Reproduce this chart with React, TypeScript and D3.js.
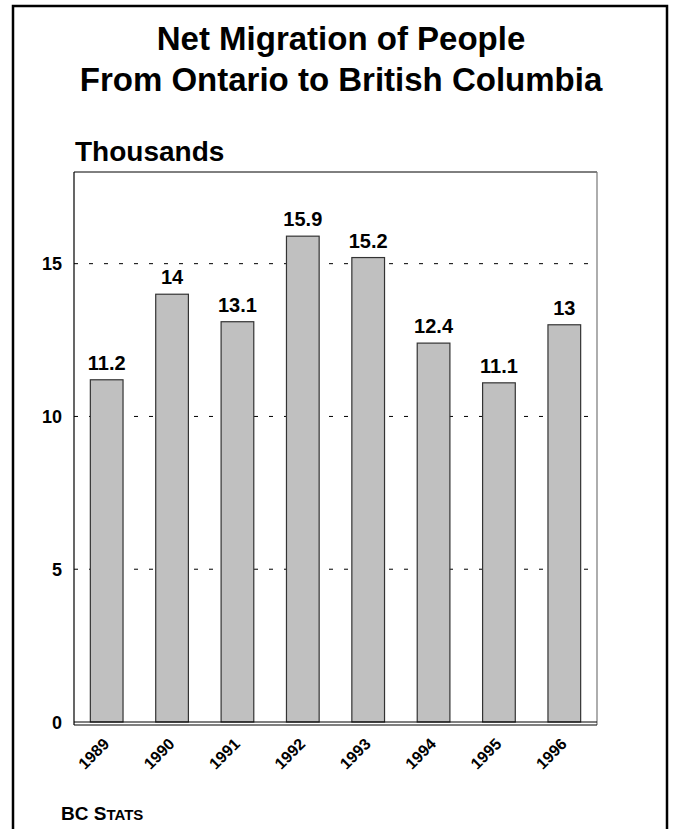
import React from "react";
import * as d3 from "d3";

const years = ["1989", "1990", "1991", "1992", "1993", "1994", "1995", "1996"];
const values = [11.2, 14, 13.1, 15.9, 15.2, 12.4, 11.1, 13];
const valueLabels = ["11.2", "14", "13.1", "15.9", "15.2", "12.4", "11.1", "13"];
const yTicks = [0, 5, 10, 15];
const titleLines = ["Net Migration of People", "From Ontario to British Columbia"];

const W = 673, H = 829;
const plot = { left: 74, right: 597, top: 172, bottom: 722 };
const FONT = "'Liberation Sans', Arial, Helvetica, sans-serif";

export default function App() {
  const x = d3.scaleBand<string>().domain(years).range([plot.left, plot.right]).paddingInner(0.5).paddingOuter(0.25);
  const y = d3.scaleLinear().domain([0, 18]).range([plot.bottom, plot.top]);

  return (
    <svg width={W} height={H} style={{ position: "absolute", left: 0, top: 0, background: "#fff" }} fontFamily={FONT}>
      <rect x={13} y={6} width={654} height={840} fill="#fff" stroke="#000" strokeWidth={2.5} />
      {titleLines.map((t, i) => (
        <text key={t} x={341} y={50 + i * 41} textAnchor="middle" fontSize={33} fontWeight="bold">{t}</text>
      ))}
      <text x={75} y={161} fontSize={28} fontWeight="bold">Thousands</text>
      {/* plot frame */}
      <line x1={plot.left} x2={plot.right} y1={plot.top} y2={plot.top} stroke="#000" strokeWidth={1} />
      <line x1={plot.right} x2={plot.right} y1={plot.top} y2={plot.bottom + 3} stroke="#777" strokeWidth={1.2} />
      {/* gridlines */}
      {yTicks.filter(t => t > 0).map(t => (
        <line key={t} x1={plot.left} x2={plot.right} y1={y(t)} y2={y(t)} stroke="#000" strokeWidth={1} strokeDasharray="4,11" />
      ))}
      {/* bars */}
      {years.map((yr, i) => (
        <rect key={yr} x={x(yr)} y={y(values[i])} width={x.bandwidth()} height={plot.bottom - y(values[i])} fill="#c0c0c0" stroke="#333" strokeWidth={1.2} />
      ))}
      {years.map((yr, i) => (
        <text key={yr} x={(x(yr) as number) + x.bandwidth() / 2} y={y(values[i]) - 10} textAnchor="middle" fontSize={20} fontWeight="bold">{valueLabels[i]}</text>
      ))}
      {/* axes */}
      <line x1={plot.left} x2={plot.left} y1={plot.top} y2={plot.bottom + 3} stroke="#000" strokeWidth={1.2} />
      <line x1={plot.left} x2={plot.right} y1={plot.bottom} y2={plot.bottom} stroke="#000" strokeWidth={1.2} />
      <line x1={plot.left} x2={plot.right} y1={plot.bottom + 3} y2={plot.bottom + 3} stroke="#000" strokeWidth={1.2} />
      {yTicks.map(t => (
        <text key={t} x={62} y={y(t) + 6.5} textAnchor="end" fontSize={18} fontWeight="bold">{t}</text>
      ))}
      {years.map(yr => {
        const cx = (x(yr) as number) + x.bandwidth() / 2 + 3.5;
        const cy = plot.bottom + 23;
        return (
          <text key={yr} x={cx} y={cy} transform={`rotate(-45 ${cx} ${cy})`} textAnchor="end" fontSize={16} fontWeight="bold">{yr}</text>
        );
      })}
      <text x={61} y={820} fontWeight="bold" fontSize={19}>
        BC S<tspan fontSize={15}>TATS</tspan>
      </text>
    </svg>
  );
}
